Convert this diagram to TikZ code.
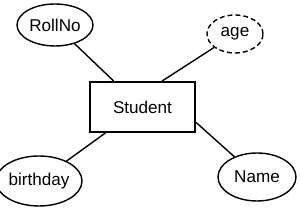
\documentclass[tikz,border=0pt]{standalone}
\usepackage{fontspec}
\setmainfont{Liberation Sans}
\usetikzlibrary{shapes,positioning,shapes.geometric}

\begin{document}
\begin{tikzpicture}[
    x=0.03cm, y=-0.03cm,
    entity/.style={rectangle, draw, line width=1.6pt, minimum width=3.15cm, minimum height=1.5cm, inner sep=0pt, font=\fontsize{14.6}{17}\selectfont},
    attr/.style={ellipse, draw, line width=1.2pt, inner sep=0pt, font=\fontsize{14.6}{17}\selectfont},
    derived/.style={attr, dash pattern=on 4.2pt off 2.6pt},
    link/.style={line width=1.2pt}
]
\useasboundingbox (0,0) rectangle (300,209);

% Entity
\node[entity] (student) at (142.5,107) {Student};

% Attributes
\node[attr, minimum width=2.28cm, minimum height=1.26cm] (rollno) at (55,25) {RollNo};
\node[derived, minimum width=1.68cm, minimum height=1.14cm] (age) at (235,34) {age};
\node[attr, minimum width=2.22cm, minimum height=1.5cm] (birthday) at (39,181) {birthday};
\node[attr, minimum width=2.34cm, minimum height=1.44cm] (name) at (257,177) {Name};

% Connections
\draw[link] (rollno) -- (student.138);
\draw[link] (age) -- (student.53);
\draw[link] (birthday) -- (student.215);
\draw[link] (name) -- (student.-16);

\end{tikzpicture}
\end{document}
